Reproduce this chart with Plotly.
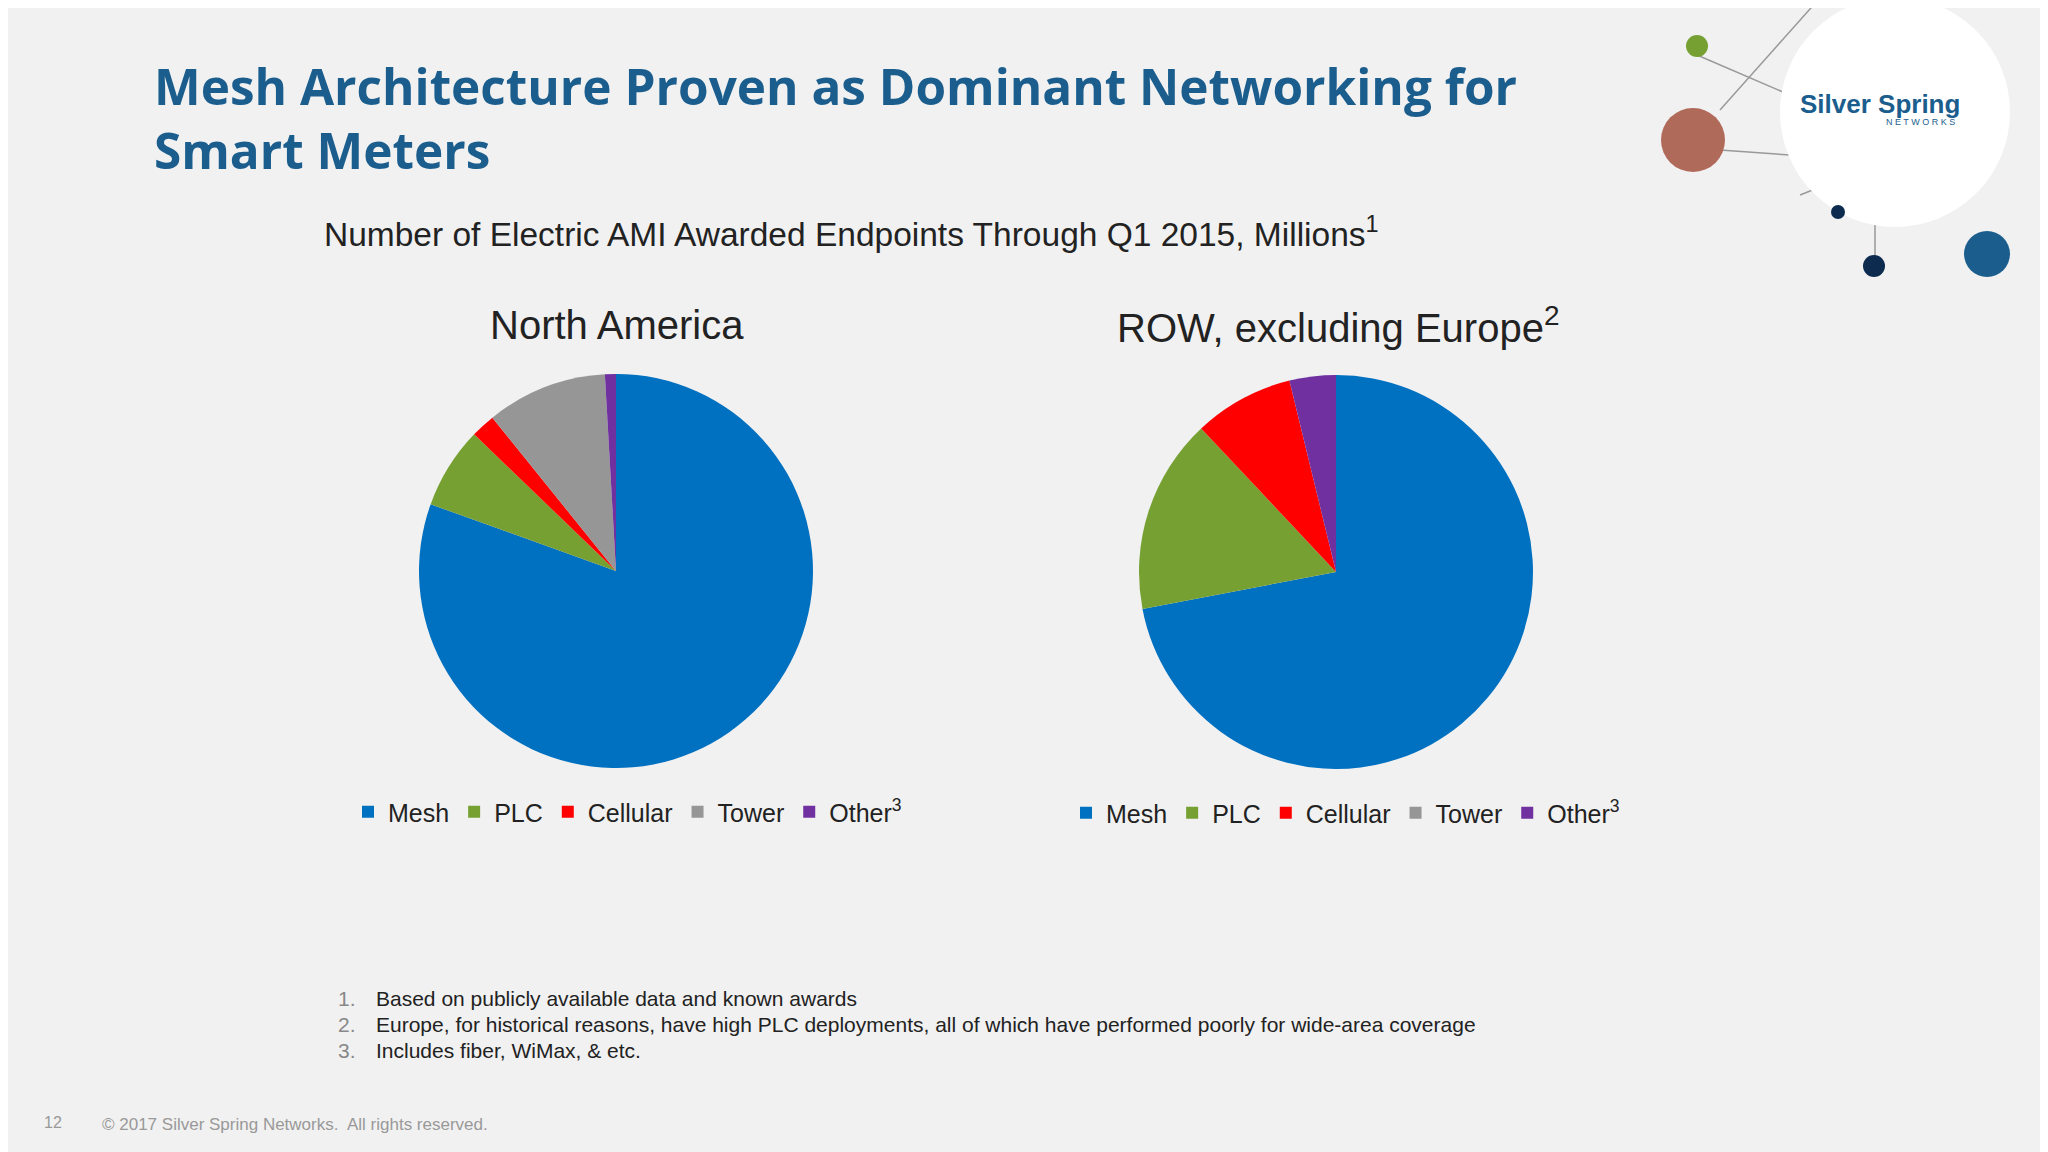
import plotly.graph_objects as go

labels = ["Mesh", "PLC", "Cellular", "Tower", "Other<sup>3</sup>"]
colors = ["#0070C0", "#77A033", "#FF0000", "#969696", "#7030A0"]
na_values = [80.5, 6.7, 2.0, 9.9, 0.9]
row_values = [72.0, 16.0, 8.2, 0.0, 3.8]

W, H = 2048, 1152
DX, DY = -8, -8
def px(x): return (x + DX) / W
def py(y): return 1 - (y + DY) / H

fig = go.Figure()
fig.add_trace(go.Pie(labels=labels, values=na_values, sort=False, direction="clockwise", rotation=0,
                     marker=dict(colors=colors), textinfo="none", hoverinfo="label+value",
                     domain=dict(x=[px(419), px(813)], y=[py(768), py(374)]), legend="legend"))
fig.add_trace(go.Pie(labels=[l + "\u200b" for l in labels], values=row_values, sort=False, direction="clockwise",
                     rotation=0, marker=dict(colors=colors), textinfo="none", hoverinfo="label+value",
                     domain=dict(x=[px(1139), px(1533)], y=[py(769), py(375)]), legend="legend2"))

font = "Liberation Sans, Arial, sans-serif"
leg = dict(orientation="h", font=dict(family=font, size=25, color="#222"), bgcolor="rgba(0,0,0,0)",
           itemwidth=30, xanchor="left", yanchor="middle")
fig.update_layout(
    width=W, height=H, margin=dict(l=0, r=0, t=0, b=0),
    paper_bgcolor="#F1F1F1", plot_bgcolor="#F1F1F1",
    legend=dict(leg, x=px(348), y=py(812)),
    legend2=dict(leg, x=px(1066), y=py(813)),
)

ann = []
ann.append(dict(text="Mesh Architecture Proven as Dominant Networking for<br>Smart Meters", x=px(152), y=py(50),
                xanchor="left", yanchor="top", align="left",
                font=dict(family="Open Sans, sans-serif", size=49.5, color="#1B5E8E", weight="bold")))
ann.append(dict(text="Number of Electric AMI Awarded Endpoints Through Q1 2015, Millions<sup>1</sup>",
                x=px(322), y=py(232), xanchor="left", yanchor="middle",
                font=dict(family=font, size=33.5, color="#222")))
ann.append(dict(text="North America", x=px(617), y=py(325), xanchor="center", yanchor="middle",
                font=dict(family=font, size=40, color="#222")))
ann.append(dict(text="ROW, excluding Europe<sup>2</sup>", x=px(1338), y=py(325), xanchor="center", yanchor="middle",
                font=dict(family=font, size=40, color="#222")))
notes = ["Based on publicly available data and known awards",
         "Europe, for historical reasons, have high PLC deployments, all of which have performed poorly for wide-area coverage",
         "Includes fiber, WiMax, & etc."]
for i, n in enumerate(notes):
    yy = 998 + i * 26
    ann.append(dict(text=f"{i+1}.", x=px(336), y=py(yy), xanchor="left", yanchor="middle",
                    font=dict(family=font, size=21, color="#888")))
    ann.append(dict(text=n, x=px(374), y=py(yy), xanchor="left", yanchor="middle",
                    font=dict(family=font, size=21, color="#222")))
ann.append(dict(text="12", x=px(42), y=py(1122), xanchor="left", yanchor="middle",
                font=dict(family=font, size=16, color="#999")))
ann.append(dict(text="© 2017 Silver Spring Networks.  All rights reserved.", x=px(100), y=py(1124), xanchor="left",
                yanchor="middle", font=dict(family=font, size=17, color="#999")))
ann.append(dict(text="<b>Silver Spring</b>", x=px(1880), y=py(104), xanchor="center", yanchor="middle",
                font=dict(family=font, size=26, color="#1B5E8E")))
ann.append(dict(text="N E T W O R K S", x=px(1920), y=py(122), xanchor="center", yanchor="middle",
                font=dict(family=font, size=9, color="#1B5E8E")))
for a in ann:
    a.update(xref="paper", yref="paper", showarrow=False)
fig.update_layout(annotations=ann)

def circ(cx, cy, r, color):
    return dict(type="circle", xref="paper", yref="paper", x0=px(cx - r), x1=px(cx + r),
                y0=py(cy + r), y1=py(cy - r), fillcolor=color, line=dict(width=0), layer="below")
def seg(x0, y0, x1, y1):
    return dict(type="line", xref="paper", yref="paper", x0=px(x0), y0=py(y0), x1=px(x1), y1=py(y1),
                line=dict(color="#999", width=1.5), layer="below")
shapes = [seg(1720, 110, 1818, 0), seg(1697, 55, 1790, 95), seg(1720, 150, 1790, 155),
          seg(1875, 190, 1875, 265), seg(1800, 195, 1838, 180),
          circ(1895, 112, 115, "white"), circ(1697, 46, 11, "#77A033"), circ(1693, 140, 32, "#B06A5A"),
          circ(1838, 212, 7, "#0D2B4F"), circ(1874, 266, 11, "#0D2B4F"), circ(1987, 254, 23, "#1B5E8E")]
fig.update_layout(shapes=shapes)

fig.write_html("out.html")
